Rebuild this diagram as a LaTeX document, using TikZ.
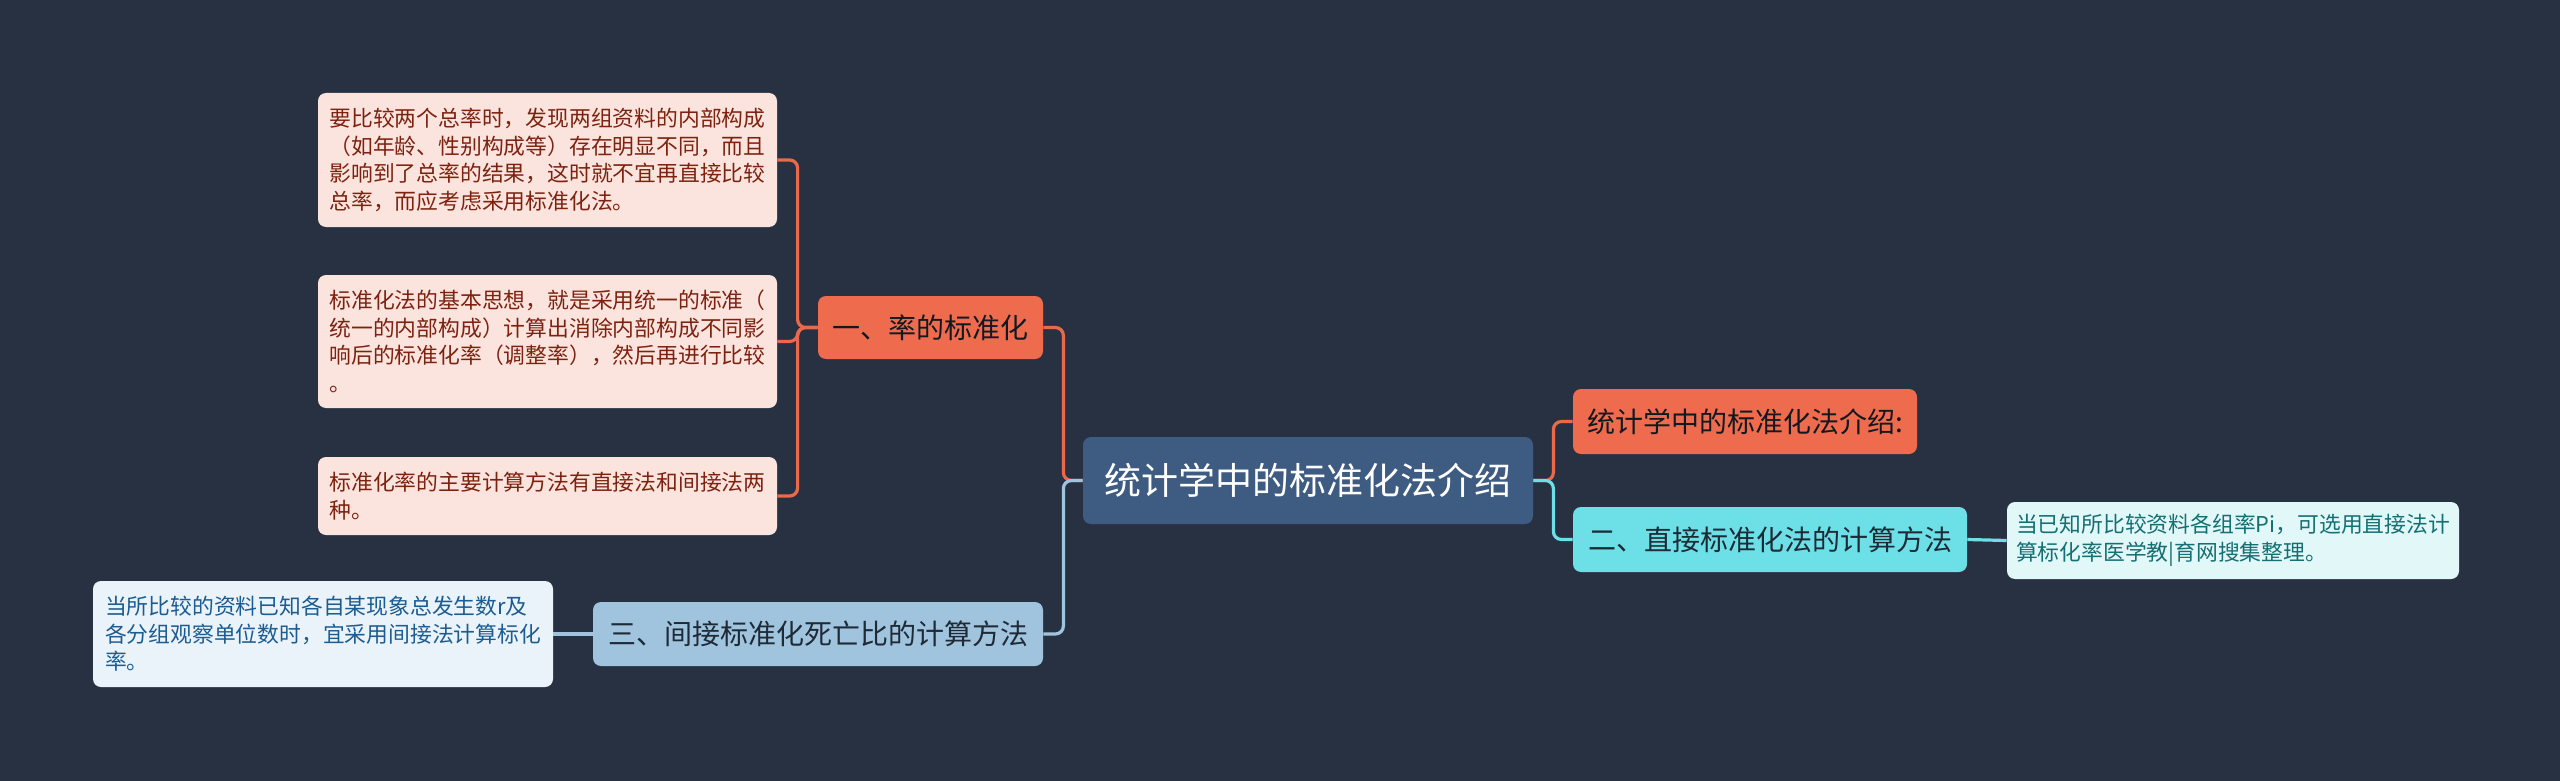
\documentclass[tikz,border=0pt]{standalone}
\usepackage{fontspec}
\setmainfont{Noto Sans CJK SC}
\usepackage{tikz}
\usetikzlibrary{positioning}
\usepackage{xcolor}
\definecolor{bgdark}{HTML}{283142}
\definecolor{topicblue}{HTML}{3E5B81}
\definecolor{orangemain}{HTML}{EE6C4D}
\definecolor{orangeline}{HTML}{E9694B}
\definecolor{pinknote}{HTML}{FCE4DE}
\definecolor{pinktext}{HTML}{7E2210}
\definecolor{skyblue}{HTML}{A0C4DE}
\definecolor{icenote}{HTML}{EAF3FA}
\definecolor{icetext}{HTML}{1B5C92}
\definecolor{cyanmain}{HTML}{6CE0E6}
\definecolor{cyannote}{HTML}{E2F7F8}
\definecolor{cyantext}{HTML}{147072}
\definecolor{darktext}{HTML}{1E2A36}
\tikzset{
	box/.style={rectangle, rounded corners=4pt, inner sep=0pt, align=left},
	topic/.style={box, fill=topicblue, text=white,
		font=\fontsize{18.5}{22}\selectfont},
	branch/.style={box, font=\fontsize{14}{17}\selectfont},
	note/.style={box, minimum width=229.5pt,
		font=\fontsize{10.9}{13.75}\selectfont},
	link/.style={line width=1.6pt, rounded corners=4pt}
}

\begin{document}
\begin{tikzpicture}[x=0.5pt, y=-0.5pt]
			
			%% background
			\fill[bgdark] (0,0) rectangle (2560,781);
			\useasboundingbox (0,0) rectangle (2560,781);
			
			%% central topic
			\node[topic, minimum width=225pt, minimum height=43.5pt]
			(root) at (1308,480.5) {统计学中的标准化法介绍};
			
			%% left branches
			\node[branch, fill=orangemain, text=darktext!60!black,
			minimum width=112.5pt, minimum height=31.5pt]
			(rate) at (930.5,327.5) {一、率的标准化};
			\node[branch, fill=skyblue, text=darktext,
			minimum width=225pt, minimum height=32pt]
			(indirect) at (818,634) {三、间接标准化死亡比的计算方法};
			
			%% right branches
			\node[branch, fill=orangemain, text=darktext!60!black,
			minimum width=172pt, minimum height=32.5pt]
			(intro) at (1745,421.5) {统计学中的标准化法介绍:};
			\node[branch, fill=cyanmain, text=darktext,
			minimum width=197pt, minimum height=32.5pt]
			(direct) at (1770,539.5) {二、直接标准化法的计算方法};
			
			%% notes of the rate branch
			\node[note, fill=pinknote, text=pinktext, minimum height=67pt]
			(whyNote) at (547.5,160) {要比较两个总率时，发现两组资料的内部构成\\
				（如年龄、性别构成等）存在明显不同，而且\\
				影响到了总率的结果，这时就不宜再直接比较\\
				总率，而应考虑采用标准化法。};
			\node[note, fill=pinknote, text=pinktext, minimum height=66.5pt]
			(ideaNote) at (547.5,341.5) {标准化法的基本思想，就是采用统一的标准（\\
				统一的内部构成）计算出消除内部构成不同影\\
				响后的标准化率（调整率），然后再进行比较\\
				。};
			\node[note, fill=pinknote, text=pinktext, minimum height=39pt]
			(methodNote) at (547.5,496) {标准化率的主要计算方法有直接法和间接法两\\
				种。};
			
			%% note of the indirect branch
			\node[note, fill=icenote, text=icetext, minimum width=230pt,
			minimum height=53pt]
			(indirectNote) at (323,634) {当所比较的资料已知各自某现象总发生数r及\\
				各分组观察单位数时，宜采用间接法计算标化\\
				率。};
			
			%% note of the direct branch
			\node[note, fill=cyannote, text=cyantext, minimum width=226pt,
			minimum height=38.5pt]
			(directNote) at (2233,540.5) {当已知所比较资料各组率Pi，可选用直接法计\\
				算标化率医学教|育网搜集整理。};
			
			%% connectors, left side
			\draw[link, orangeline] (rate.east) -- ++(20,0) |- (root.west);
			\draw[link, skyblue] (indirect.east) -- ++(20,0) |- (root.west);
			\draw[link, orangeline] (rate.west) -- ++(-20,0) |- (whyNote.east);
			\draw[link, orangeline] (rate.west) -- ++(-20,0) |- (ideaNote.east);
			\draw[link, orangeline] (rate.west) -- ++(-20,0) |- (methodNote.east);
			\draw[link, skyblue] (indirect.west) -- (indirectNote.east);
			
			%% connectors, right side
			\draw[link, orangeline] (root.east) -- ++(20,0) |- (intro.west);
			\draw[link, cyanmain] (root.east) -- ++(20,0) |- (direct.west);
			\draw[link, cyanmain] (direct.east) -- (directNote.west);
			
		\end{tikzpicture}
\end{document}
